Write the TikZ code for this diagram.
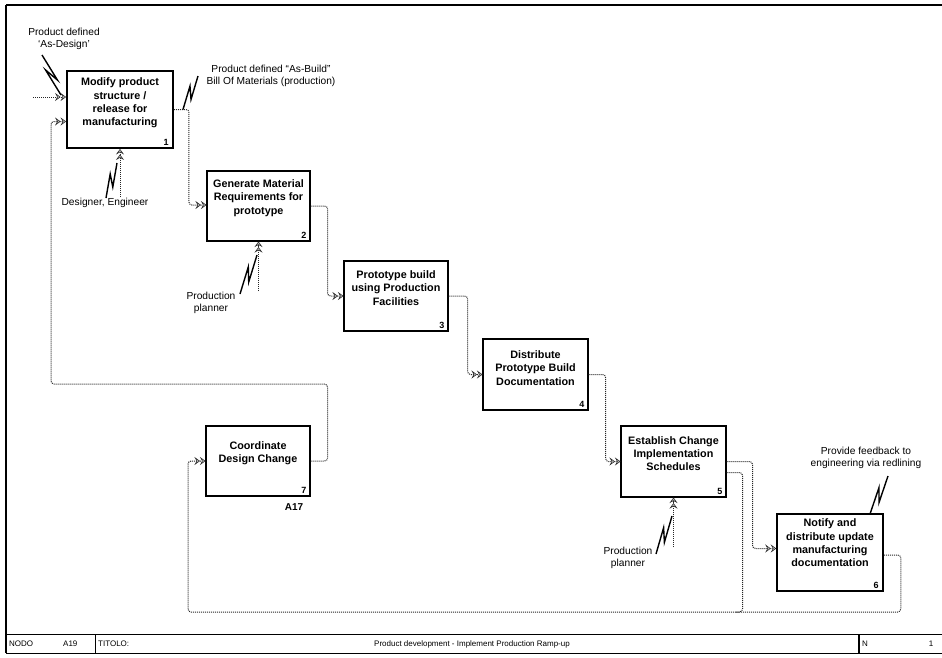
\documentclass[tikz,border=0pt]{standalone}
\usepackage{fontspec}
\setmainfont{Liberation Sans}
\usetikzlibrary{arrows.meta,calc}
\newcommand\idefsq[2]{\draw[squig] (#1) -- ($(#1)!0.66!(#2)!3.2pt!90:(#2)$) -- ($(#1)!0.34!(#2)!3.2pt!-90:(#2)$) -- (#2);}
\begin{document}
\begin{tikzpicture}[x=1pt,y=-1pt,
  box/.style={draw=black,line width=1.1pt,inner sep=0pt,fill=white},
  btext/.style={font=\bfseries\fontsize{10.8}{13.3}\selectfont,align=center,inner sep=0pt},
  num/.style={font=\bfseries\fontsize{9}{9}\selectfont,inner sep=0pt,anchor=south east},
  lab/.style={font=\fontsize{10.2}{12.4}\selectfont,align=center,inner sep=0pt},
  foot/.style={font=\fontsize{8}{9}\selectfont,inner sep=0pt},
  flow/.style={draw=gray!30!black,line width=1pt,densely dotted,rounded corners=3pt,
    -{Stealth[length=5.5pt,width=8pt,inset=2.2pt,fill=gray!55,color=gray!30!black,line width=0.5pt]
      Stealth[length=5.5pt,width=8pt,inset=2.2pt,fill=gray!55,color=gray!30!black,line width=0.5pt]}},
  squig/.style={draw=black,line width=1.4pt,line join=miter,line cap=butt},
  frame/.style={draw=black,line width=1pt}]
\useasboundingbox (0,0) rectangle (942,657);
\fill[white] (0,0) rectangle (942,657);

% frame and footer
\draw[frame,line width=1.6pt] (6,5) -- (942,5);
\draw[frame,line width=1.2pt] (6,5) -- (6,653);
\draw[frame] (6,634) -- (942,634);
\draw[frame] (6,653) -- (942,653);
\draw[frame] (95,634) -- (95,653);
\draw[frame,line width=1.3pt] (859,634) -- (859,653);
\node[foot,anchor=west] (fnodo) at (9,644) {NODO};
\node[foot,anchor=west] (fa19) at (63,644) {A19};
\node[foot,anchor=west] (ftit) at (98,644) {TITOLO:};
\node[foot] (ftitle) at (472,644) {Product development - Implement Production Ramp-up};
\node[foot,anchor=west] (fn) at (862,644) {N};
\node[foot] (fone) at (931,644) {1};

% boxes
\node[box,line width=1.9pt,minimum width=106pt,minimum height=77pt] (b1) at (120,109.5) {};
\node[box,minimum width=103pt,minimum height=70pt] (b2) at (258.5,206) {};
\node[box,minimum width=104pt,minimum height=70pt] (b3) at (396,296) {};
\node[box,minimum width=105pt,minimum height=71pt] (b4) at (535.5,374.5) {};
\node[box,minimum width=105pt,minimum height=71pt] (b5) at (673.5,461.5) {};
\node[box,line width=1.5pt,minimum width=106pt,minimum height=77pt] (b6) at (830,552.5) {};
\node[box,minimum width=104pt,minimum height=70pt] (b7) at (258,461) {};

\node[btext] (t1) at ($(b1.center)+(0,-6.5)$) {Modify product\\structure /\\release for\\manufacturing};
\node[btext] (t2) at ($(b2.center)+(0,-8)$) {Generate Material\\Requirements for\\prototype};
\node[btext] (t3) at ($(b3.center)+(0,-8)$) {Prototype build\\using Production\\Facilities};
\node[btext] (t4) at ($(b4.center)+(0,-6.5)$) {Distribute\\Prototype Build\\Documentation};
\node[btext] (t5) at ($(b5.center)+(0,-8)$) {Establish Change\\Implementation\\Schedules};
\node[btext] (t6) at ($(b6.center)+(0,-9.5)$) {Notify and\\distribute update\\manufacturing\\documentation};
\node[btext] (t7) at ($(b7.center)+(0,-7.5)$) {Coordinate\\Design Change};

\node[num] (n1) at ($(b1.south east)+(-5,-3)$) {1};
\node[num] (n2) at ($(b2.south east)+(-4,-3)$) {2};
\node[num] (n3) at ($(b3.south east)+(-4,-3)$) {3};
\node[num] (n4) at ($(b4.south east)+(-4,-3)$) {4};
\node[num] (n5) at ($(b5.south east)+(-4,-3)$) {5};
\node[num] (n6) at ($(b6.south east)+(-5,-3)$) {6};
\node[num] (n7) at ($(b7.south east)+(-4,-3)$) {7};
\node[font=\bfseries\fontsize{10}{10}\selectfont,inner sep=0pt] (a17) at (294,507) {A17};

% coordinates
\coordinate (in1) at (33,97);
\coordinate (m1) at (120,197);
\coordinate (m2) at (258.5,291);
\coordinate (m5) at (673.5,547);
\coordinate (bl) at (188,612);
\coordinate (tl) at (51,384);
\coordinate (j1) at (735,612);

% flows
\draw[flow] (in1) -- (in1 -| b1.west);
\draw[flow] (b1.east) -- ++(15,0) |- ($(b2.west)+(0,-1)$);
\draw[flow] (b2.east) -- ++(17,0) |- (b3.west);
\draw[flow] (b3.east) -- ++(19,0) |- (b4.west);
\draw[flow] (b4.east) -- ++(17,0) |- (b5.west);
\draw[flow] (b5.east) -- ++(26,0) |- ($(b6.west)+(0,-4)$);
\draw[flow,-] ($(b5.east)+(0,11)$) -- ++(16,0) |- (j1);
\draw[flow] ($(b6.east)+(0,2.5)$) -- ++(17,0) |- (bl) |- (b7.west);
\draw[flow] (b7.east) -- ++(17,0) |- (tl) |- ($(b1.west)+(0,12)$);
\draw[flow] (m1) -- (b1.south);
\draw[flow] (m2) -- (b2.south);
\draw[flow] (m5) -- (b5.south);

% labels
\node[lab] (l1) at (64,39) {Product defined\\`As-Design'};
\node[lab] (l2) at (271,76) {Product defined ``As-Build''\\Bill Of Materials (production)};
\node[lab] (l3) at (105,203) {Designer, Engineer};
\node[lab] (l4) at (211,303) {Production\\planner};
\node[lab] (l5) at (628,558) {Production\\planner};
\node[lab] (l6) at (866,458) {Provide feedback to\\engineering via redlining};

% squiggles
\coordinate (s1a) at (42,55);
\coordinate (s1b) at (61,95);
\coordinate (s2a) at (183,109.5);
\coordinate (s2b) at (198,76);
\coordinate (s3a) at (106,198);
\coordinate (s3b) at (117,163);
\coordinate (s4a) at (240,294);
\coordinate (s4b) at (257,255);
\coordinate (s5a) at (656,554);
\coordinate (s5b) at (672,516);
\coordinate (s6a) at (870,514);
\coordinate (s6b) at (888,476);
\idefsq{s1a}{s1b}
\idefsq{s2a}{s2b}
\idefsq{s3a}{s3b}
\idefsq{s4a}{s4b}
\idefsq{s5a}{s5b}
\idefsq{s6a}{s6b}
\end{tikzpicture}
\end{document}
